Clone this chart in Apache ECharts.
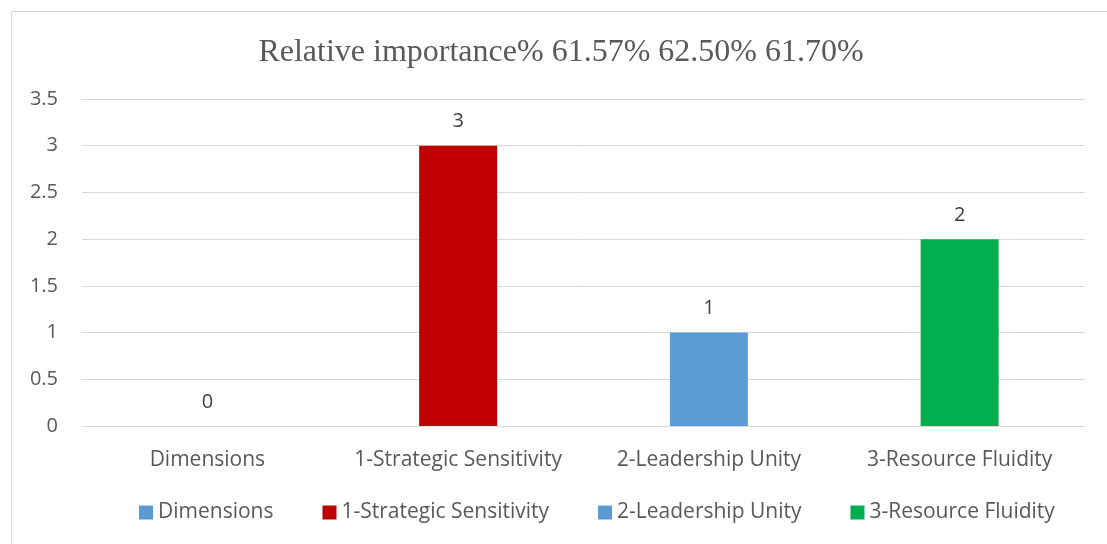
<!DOCTYPE html>
<html><head><meta charset="utf-8">
<script src="https://cdn.jsdelivr.net/npm/echarts@6/dist/echarts.min.js"></script>
<style>html,body{margin:0;padding:0;background:#fff;}#c{width:1107px;height:544px;}</style>
</head><body><div id="c"></div>
<script>
const titleText = 'Relative importance% 61.57% 62.50% 61.70%';
const categories = ['Dimensions', '1-Strategic Sensitivity', '2-Leadership Unity', '3-Resource Fluidity'];
const values = [0, 3, 1, 2];
const colors = ['#5B9BD5', '#C00000', '#5B9BD5', '#00B050'];
const yTicks = { min: 0, max: 3.5, interval: 0.5 };

const font = '"Open Sans", sans-serif';
const series = categories.map((name, i) => ({
  name: name,
  type: 'bar',
  stack: 'all',
  barWidth: 78,
  itemStyle: { color: colors[i] },
  label: { show: true, position: 'top', distance: 14, color: '#404040', fontSize: 20, fontFamily: font },
  data: categories.map((c, j) => j === i ? values[i] : '-')
}));

const chart = echarts.init(document.getElementById('c'));
chart.setOption({
  animation: false,
  graphic: [{ type: 'rect', left: 9, top: 9, shape: { width: 1110, height: 545 }, style: { fill: 'none', stroke: '#d9d9d9', lineWidth: 1 }, silent: true }],
  title: { text: titleText, left: 556, textAlign: 'center', top: 32, textStyle: { fontFamily: '"Liberation Serif", serif', fontWeight: 'normal', fontSize: 32, color: '#595959' } },
  grid: { left: 82, right: 22, top: 99, bottom: 118 },
  legend: { bottom: 16, left: 134, itemWidth: 14, itemHeight: 14, itemGap: 49, icon: 'rect', textStyle: { fontFamily: font, fontSize: 21, color: '#595959' }, data: categories },
  xAxis: { type: 'category', data: categories, axisTick: { show: false }, axisLine: { lineStyle: { color: '#d9d9d9', width: 1 } }, axisLabel: { interval: 0, fontFamily: font, fontSize: 21, color: '#595959', margin: 24 } },
  yAxis: { type: 'value', min: yTicks.min, max: yTicks.max, interval: yTicks.interval, axisLine: { show: false }, axisTick: { show: false }, splitLine: { lineStyle: { color: '#d9d9d9' } }, axisLabel: { fontFamily: font, fontSize: 20, color: '#595959', margin: 24 } },
  series: series
});
</script></body></html>
